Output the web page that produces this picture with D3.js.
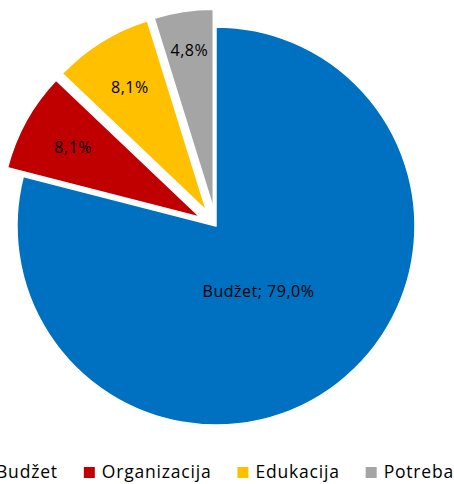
<!DOCTYPE html>
<html>
<head>
<meta charset="utf-8">
<script src="https://cdn.jsdelivr.net/npm/d3@7"></script>
<style>
  html, body { margin: 0; padding: 0; background: #fff; }
  svg { display: block; }
</style>
</head>
<body>
<svg id="chart" width="454" height="484"></svg>
<script>
const categories = ["Budžet", "Organizacija", "Edukacija", "Potreba"];
const values = [79.0, 8.1, 8.1, 4.8];
const labels = ["Budžet; 79,0%", "8,1%", "8,1%", "4,8%"];
const exploded = [false, true, true, true];
const colors = ["#0070C0", "#C00000", "#FFC000", "#A5A5A5"];

const svg = d3.select("#chart");
const cx = 216, cy = 226, r = 199, explode = 18;
const font = "'Open Sans', 'Noto Sans', sans-serif";

const pie = d3.pie().sort(null).value(d => d)(values);
const arc = d3.arc().innerRadius(0).outerRadius(r);

const g = svg.append("g").attr("transform", `translate(${cx},${cy})`);

const slices = g.selectAll("g.slice").data(pie).join("g")
  .attr("class", "slice")
  .attr("transform", (d, i) => {
    if (!exploded[i]) return null;
    const a = (d.startAngle + d.endAngle) / 2;
    return `translate(${Math.sin(a) * explode},${-Math.cos(a) * explode})`;
  });

slices.append("path")
  .attr("d", arc)
  .attr("fill", (d, i) => colors[i])
  .attr("stroke", "#fff")
  .attr("stroke-width", 1.5)
  .attr("stroke-linejoin", "round");

slices.append("text")
  .attr("transform", (d, i) => {
    const a = (d.startAngle + d.endAngle) / 2 + (exploded[i] ? 0 : 0.08);
    const lr = exploded[i] ? (i === 3 ? 0.8 : 0.73) * r : 0.39 * r;
    return `translate(${Math.sin(a) * lr},${-Math.cos(a) * lr})`;
  })
  .attr("text-anchor", "middle")
  .attr("dy", "0.35em")
  .attr("font-family", font)
  .attr("font-size", 16)
  .attr("font-weight", 500)
  .attr("letter-spacing", 0.5)
  .attr("fill", "#000")
  .text((d, i) => labels[i]);

// Legend
const legend = svg.append("g");
const items = legend.selectAll("g").data(categories).join("g");
items.append("rect")
  .attr("width", 11).attr("height", 11)
  .attr("y", 467)
  .attr("fill", (d, i) => colors[i]);
const texts = items.append("text")
  .attr("y", 478)
  .attr("font-family", font)
  .attr("font-size", 17.5)
  .attr("font-weight", 500)
  .attr("letter-spacing", 0.8)
  .attr("fill", "#000")
  .text(d => d);

const widths = [];
texts.each(function() { widths.push(this.getComputedTextLength()); });
const markerW = 11, markerGap = 7, itemGap = 26;
const total = widths.reduce((s, w) => s + markerW + markerGap + w, 0) + itemGap * (widths.length - 1);
let x = cx - total / 2;
items.each(function(d, i) {
  d3.select(this).attr("transform", `translate(${x},0)`);
  d3.select(this).select("text").attr("x", markerW + markerGap);
  x += markerW + markerGap + widths[i] + itemGap;
});
</script>
</body>
</html>
